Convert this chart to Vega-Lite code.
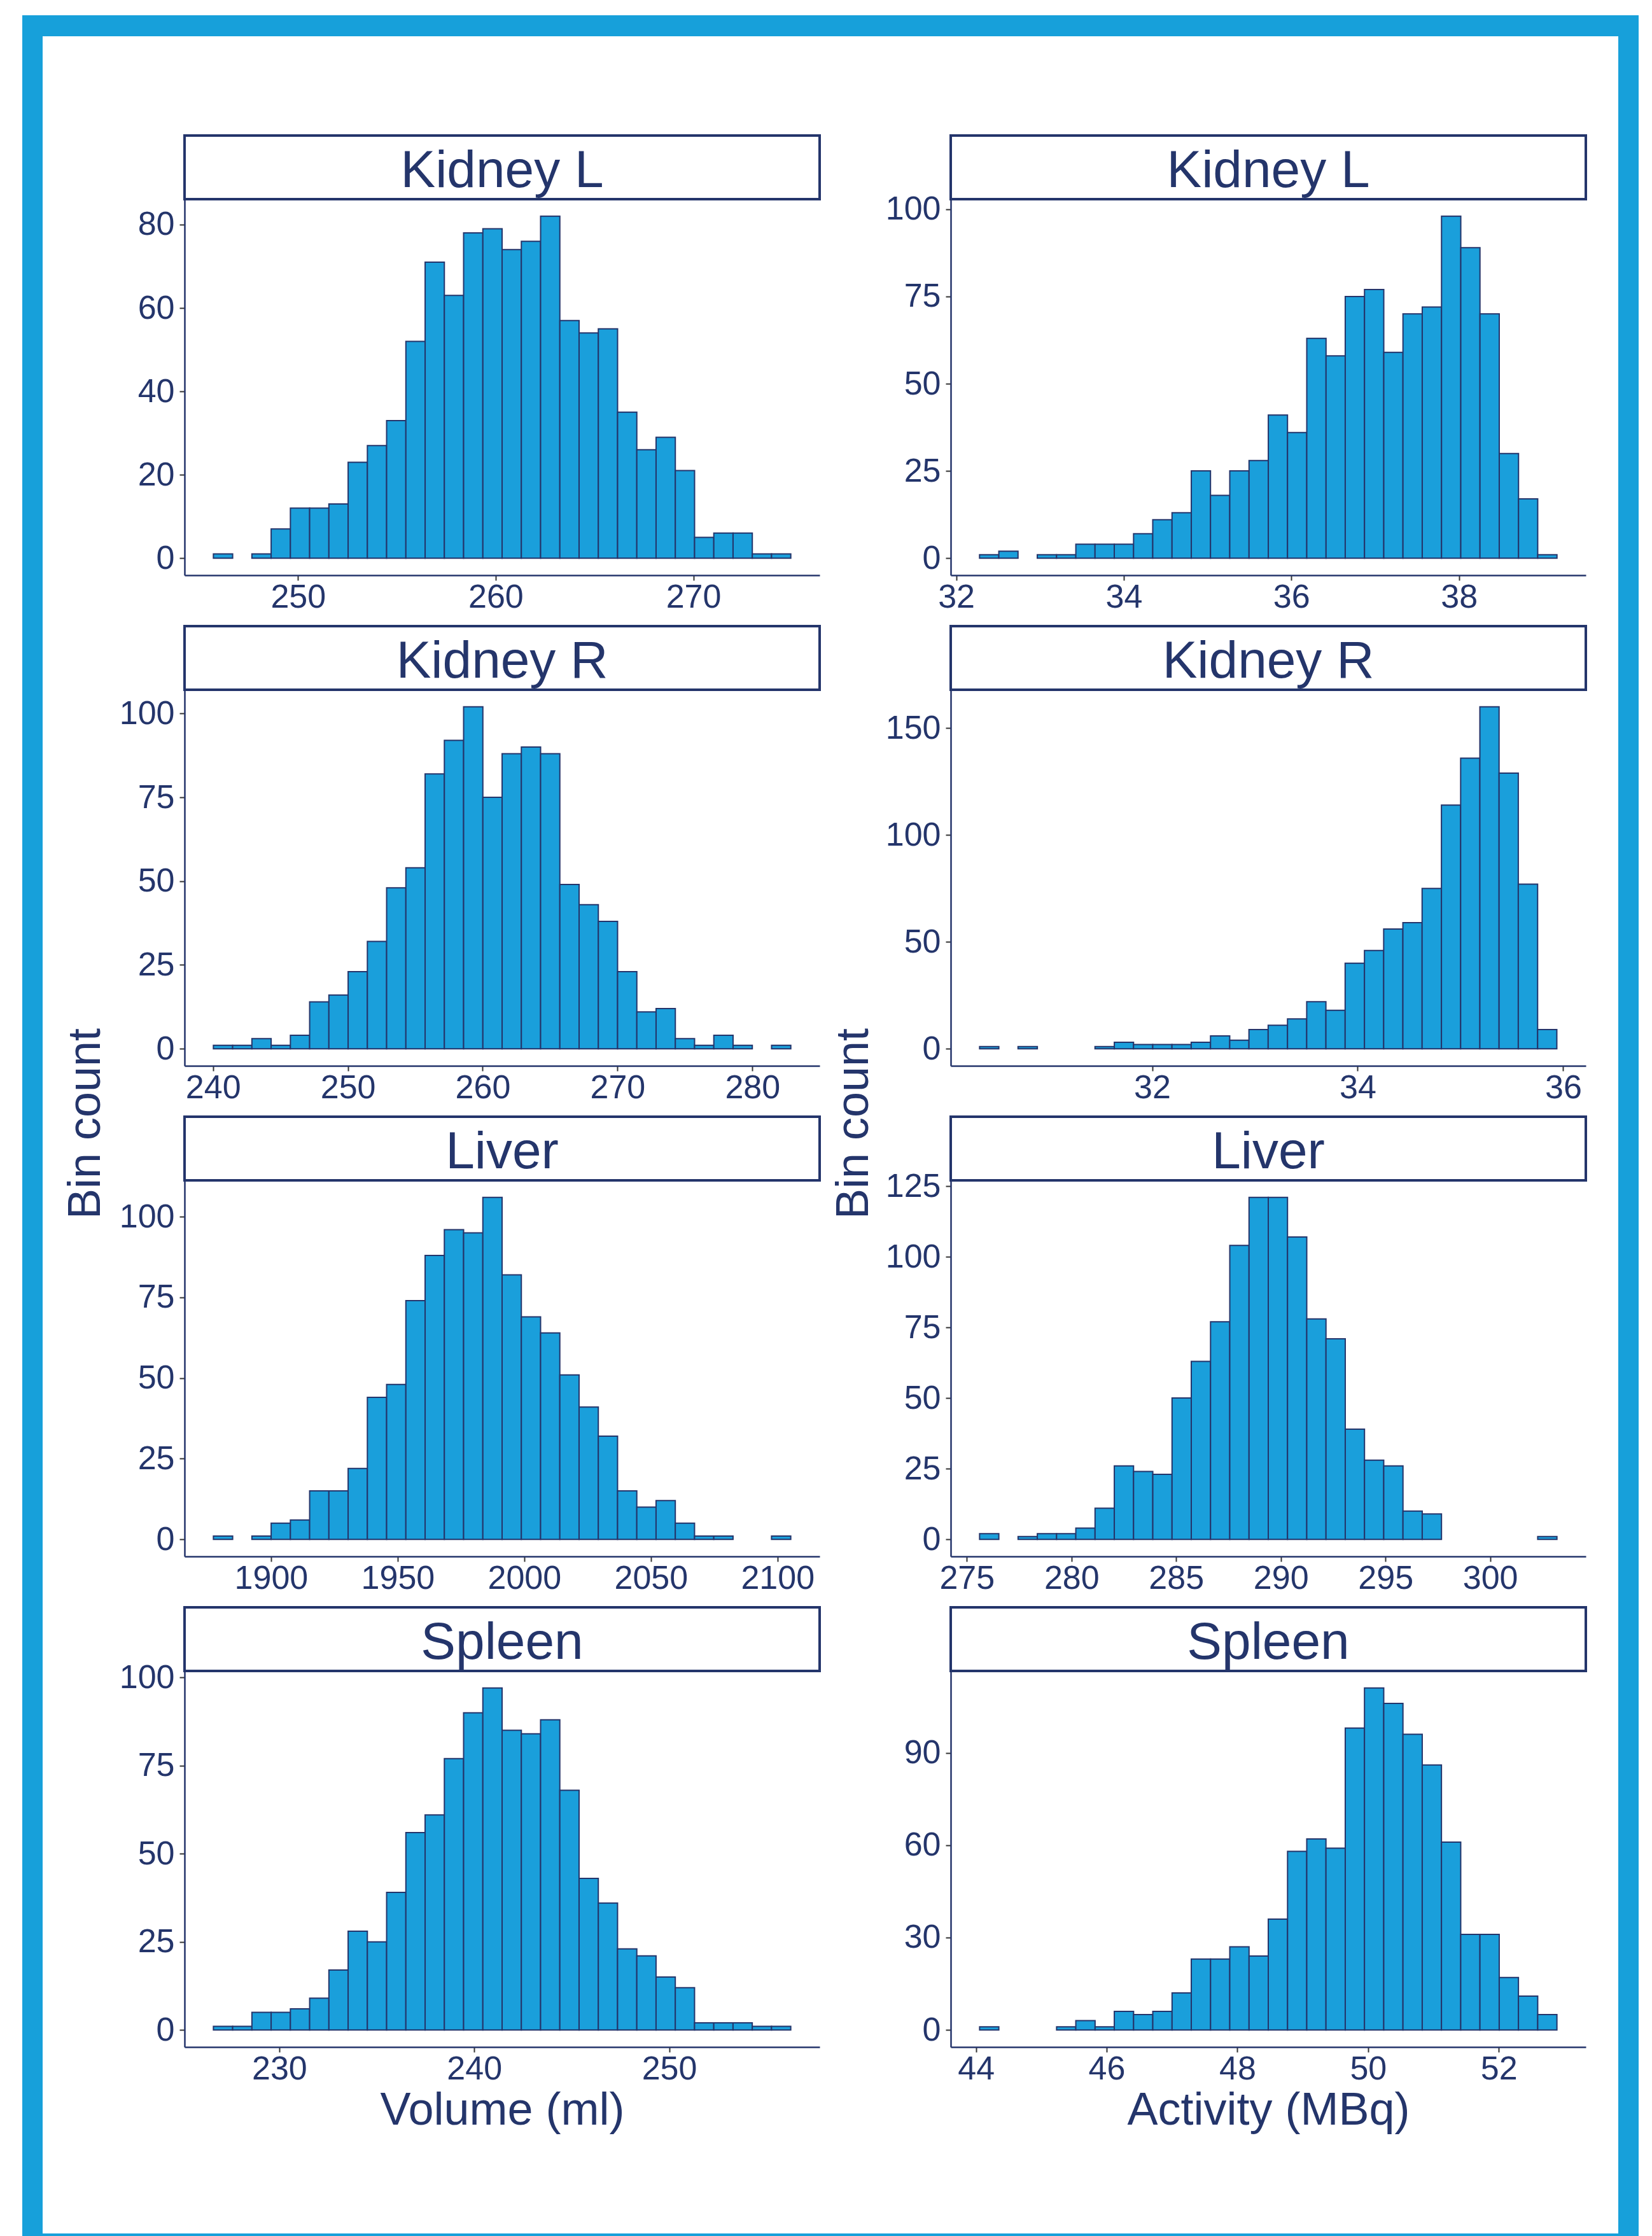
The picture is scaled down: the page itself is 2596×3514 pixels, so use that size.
{
  "$schema": "https://vega.github.io/schema/vega-lite/v6.json",
  "background": "white",
  "padding": {"left": 35, "top": 24, "right": 0, "bottom": 0},
  "config": {
    "view": {"stroke": null},
    "font": "Liberation Sans",
    "axis": {"grid": false, "domainColor": "#24356b", "domainWidth": 2.5, "tickColor": "#333333", "tickSize": 8, "tickWidth": 2,
      "labelColor": "#24356b", "labelFont": "Liberation Sans", "labelFontSize": 52, "labelFlush": false, "labelOverlap": false,
      "titleFont": "Liberation Sans", "titleFontSize": 72, "titleColor": "#24356b", "titleFontWeight": "normal", "format": "d"},
    "axisX": {"labelPadding": 1, "minExtent": 70},
    "axisY": {"labelPadding": 8, "minExtent": 115}
  },
  "datasets": {
    "vol_kl": [
      {"start": 245.720, "end": 246.694, "count": 1}, {"start": 247.667, "end": 248.641, "count": 1},
      {"start": 248.641, "end": 249.615, "count": 7}, {"start": 249.615, "end": 250.589, "count": 12},
      {"start": 250.589, "end": 251.562, "count": 12}, {"start": 251.562, "end": 252.536, "count": 13},
      {"start": 252.536, "end": 253.510, "count": 23}, {"start": 253.510, "end": 254.483, "count": 27},
      {"start": 254.483, "end": 255.457, "count": 33}, {"start": 255.457, "end": 256.431, "count": 52},
      {"start": 256.431, "end": 257.404, "count": 71}, {"start": 257.404, "end": 258.378, "count": 63},
      {"start": 258.378, "end": 259.352, "count": 78}, {"start": 259.352, "end": 260.326, "count": 79},
      {"start": 260.326, "end": 261.299, "count": 74}, {"start": 261.299, "end": 262.273, "count": 76},
      {"start": 262.273, "end": 263.247, "count": 82}, {"start": 263.247, "end": 264.220, "count": 57},
      {"start": 264.220, "end": 265.194, "count": 54}, {"start": 265.194, "end": 266.168, "count": 55},
      {"start": 266.168, "end": 267.141, "count": 35}, {"start": 267.141, "end": 268.115, "count": 26},
      {"start": 268.115, "end": 269.089, "count": 29}, {"start": 269.089, "end": 270.063, "count": 21},
      {"start": 270.063, "end": 271.036, "count": 5}, {"start": 271.036, "end": 272.010, "count": 6},
      {"start": 272.010, "end": 272.984, "count": 6}, {"start": 272.984, "end": 273.957, "count": 1},
      {"start": 273.957, "end": 274.931, "count": 1}
    ],
    "act_kl": [
      {"start": 32.279, "end": 32.509, "count": 1}, {"start": 32.509, "end": 32.738, "count": 2},
      {"start": 32.968, "end": 33.198, "count": 1}, {"start": 33.198, "end": 33.428, "count": 1},
      {"start": 33.428, "end": 33.657, "count": 4}, {"start": 33.657, "end": 33.887, "count": 4},
      {"start": 33.887, "end": 34.117, "count": 4}, {"start": 34.117, "end": 34.346, "count": 7},
      {"start": 34.346, "end": 34.576, "count": 11}, {"start": 34.576, "end": 34.806, "count": 13},
      {"start": 34.806, "end": 35.035, "count": 25}, {"start": 35.035, "end": 35.265, "count": 18},
      {"start": 35.265, "end": 35.495, "count": 25}, {"start": 35.495, "end": 35.725, "count": 28},
      {"start": 35.725, "end": 35.954, "count": 41}, {"start": 35.954, "end": 36.184, "count": 36},
      {"start": 36.184, "end": 36.414, "count": 63}, {"start": 36.414, "end": 36.643, "count": 58},
      {"start": 36.643, "end": 36.873, "count": 75}, {"start": 36.873, "end": 37.103, "count": 77},
      {"start": 37.103, "end": 37.332, "count": 59}, {"start": 37.332, "end": 37.562, "count": 70},
      {"start": 37.562, "end": 37.792, "count": 72}, {"start": 37.792, "end": 38.022, "count": 98},
      {"start": 38.022, "end": 38.251, "count": 89}, {"start": 38.251, "end": 38.481, "count": 70},
      {"start": 38.481, "end": 38.711, "count": 30}, {"start": 38.711, "end": 38.940, "count": 17},
      {"start": 38.940, "end": 39.170, "count": 1}
    ],
    "vol_kr": [
      {"start": 240.030, "end": 241.457, "count": 1}, {"start": 241.457, "end": 242.885, "count": 1},
      {"start": 242.885, "end": 244.312, "count": 3}, {"start": 244.312, "end": 245.740, "count": 1},
      {"start": 245.740, "end": 247.167, "count": 4}, {"start": 247.167, "end": 248.594, "count": 14},
      {"start": 248.594, "end": 250.022, "count": 16}, {"start": 250.022, "end": 251.449, "count": 23},
      {"start": 251.449, "end": 252.877, "count": 32}, {"start": 252.877, "end": 254.304, "count": 48},
      {"start": 254.304, "end": 255.731, "count": 54}, {"start": 255.731, "end": 257.159, "count": 82},
      {"start": 257.159, "end": 258.586, "count": 92}, {"start": 258.586, "end": 260.014, "count": 102},
      {"start": 260.014, "end": 261.441, "count": 75}, {"start": 261.441, "end": 262.868, "count": 88},
      {"start": 262.868, "end": 264.296, "count": 90}, {"start": 264.296, "end": 265.723, "count": 88},
      {"start": 265.723, "end": 267.151, "count": 49}, {"start": 267.151, "end": 268.578, "count": 43},
      {"start": 268.578, "end": 270.005, "count": 38}, {"start": 270.005, "end": 271.433, "count": 23},
      {"start": 271.433, "end": 272.860, "count": 11}, {"start": 272.860, "end": 274.288, "count": 12},
      {"start": 274.288, "end": 275.715, "count": 3}, {"start": 275.715, "end": 277.142, "count": 1},
      {"start": 277.142, "end": 278.570, "count": 4}, {"start": 278.570, "end": 279.997, "count": 1},
      {"start": 281.425, "end": 282.852, "count": 1}
    ],
    "act_kr": [
      {"start": 30.321, "end": 30.508, "count": 1}, {"start": 30.695, "end": 30.883, "count": 1},
      {"start": 31.444, "end": 31.632, "count": 1}, {"start": 31.632, "end": 31.819, "count": 3},
      {"start": 31.819, "end": 32.006, "count": 2}, {"start": 32.006, "end": 32.193, "count": 2},
      {"start": 32.193, "end": 32.380, "count": 2}, {"start": 32.380, "end": 32.568, "count": 3},
      {"start": 32.568, "end": 32.755, "count": 6}, {"start": 32.755, "end": 32.942, "count": 4},
      {"start": 32.942, "end": 33.129, "count": 9}, {"start": 33.129, "end": 33.317, "count": 11},
      {"start": 33.317, "end": 33.504, "count": 14}, {"start": 33.504, "end": 33.691, "count": 22},
      {"start": 33.691, "end": 33.878, "count": 18}, {"start": 33.878, "end": 34.066, "count": 40},
      {"start": 34.066, "end": 34.253, "count": 46}, {"start": 34.253, "end": 34.440, "count": 56},
      {"start": 34.440, "end": 34.627, "count": 59}, {"start": 34.627, "end": 34.815, "count": 75},
      {"start": 34.815, "end": 35.002, "count": 114}, {"start": 35.002, "end": 35.189, "count": 136},
      {"start": 35.189, "end": 35.376, "count": 160}, {"start": 35.376, "end": 35.563, "count": 129},
      {"start": 35.563, "end": 35.751, "count": 77}, {"start": 35.751, "end": 35.938, "count": 9}
    ],
    "vol_liver": [
      {"start": 1877.24, "end": 1884.84, "count": 1}, {"start": 1892.44, "end": 1900.04, "count": 1},
      {"start": 1900.04, "end": 1907.64, "count": 5}, {"start": 1907.64, "end": 1915.24, "count": 6},
      {"start": 1915.24, "end": 1922.84, "count": 15}, {"start": 1922.84, "end": 1930.44, "count": 15},
      {"start": 1930.44, "end": 1938.04, "count": 22}, {"start": 1938.04, "end": 1945.64, "count": 44},
      {"start": 1945.64, "end": 1953.24, "count": 48}, {"start": 1953.24, "end": 1960.84, "count": 74},
      {"start": 1960.84, "end": 1968.44, "count": 88}, {"start": 1968.44, "end": 1976.04, "count": 96},
      {"start": 1976.04, "end": 1983.64, "count": 95}, {"start": 1983.64, "end": 1991.24, "count": 106},
      {"start": 1991.24, "end": 1998.84, "count": 82}, {"start": 1998.84, "end": 2006.44, "count": 69},
      {"start": 2006.44, "end": 2014.04, "count": 64}, {"start": 2014.04, "end": 2021.64, "count": 51},
      {"start": 2021.64, "end": 2029.24, "count": 41}, {"start": 2029.24, "end": 2036.84, "count": 32},
      {"start": 2036.84, "end": 2044.44, "count": 15}, {"start": 2044.44, "end": 2052.04, "count": 10},
      {"start": 2052.04, "end": 2059.64, "count": 12}, {"start": 2059.64, "end": 2067.24, "count": 5},
      {"start": 2067.24, "end": 2074.84, "count": 1}, {"start": 2074.84, "end": 2082.44, "count": 1},
      {"start": 2097.64, "end": 2105.24, "count": 1}
    ],
    "act_liver": [
      {"start": 275.610, "end": 276.529, "count": 2}, {"start": 277.449, "end": 278.368, "count": 1},
      {"start": 278.368, "end": 279.288, "count": 2}, {"start": 279.288, "end": 280.207, "count": 2},
      {"start": 280.207, "end": 281.126, "count": 4}, {"start": 281.126, "end": 282.046, "count": 11},
      {"start": 282.046, "end": 282.965, "count": 26}, {"start": 282.965, "end": 283.885, "count": 24},
      {"start": 283.885, "end": 284.804, "count": 23}, {"start": 284.804, "end": 285.723, "count": 50},
      {"start": 285.723, "end": 286.643, "count": 63}, {"start": 286.643, "end": 287.562, "count": 77},
      {"start": 287.562, "end": 288.482, "count": 104}, {"start": 288.482, "end": 289.401, "count": 121},
      {"start": 289.401, "end": 290.320, "count": 121}, {"start": 290.320, "end": 291.240, "count": 107},
      {"start": 291.240, "end": 292.159, "count": 78}, {"start": 292.159, "end": 293.079, "count": 71},
      {"start": 293.079, "end": 293.998, "count": 39}, {"start": 293.998, "end": 294.917, "count": 28},
      {"start": 294.917, "end": 295.837, "count": 26}, {"start": 295.837, "end": 296.756, "count": 10},
      {"start": 296.756, "end": 297.676, "count": 9}, {"start": 302.273, "end": 303.192, "count": 1}
    ],
    "vol_spleen": [
      {"start": 226.620, "end": 227.607, "count": 1}, {"start": 227.607, "end": 228.595, "count": 1},
      {"start": 228.595, "end": 229.582, "count": 5}, {"start": 229.582, "end": 230.569, "count": 5},
      {"start": 230.569, "end": 231.557, "count": 6}, {"start": 231.557, "end": 232.544, "count": 9},
      {"start": 232.544, "end": 233.531, "count": 17}, {"start": 233.531, "end": 234.518, "count": 28},
      {"start": 234.518, "end": 235.506, "count": 25}, {"start": 235.506, "end": 236.493, "count": 39},
      {"start": 236.493, "end": 237.480, "count": 56}, {"start": 237.480, "end": 238.468, "count": 61},
      {"start": 238.468, "end": 239.455, "count": 77}, {"start": 239.455, "end": 240.442, "count": 90},
      {"start": 240.442, "end": 241.430, "count": 97}, {"start": 241.430, "end": 242.417, "count": 85},
      {"start": 242.417, "end": 243.404, "count": 84}, {"start": 243.404, "end": 244.391, "count": 88},
      {"start": 244.391, "end": 245.379, "count": 68}, {"start": 245.379, "end": 246.366, "count": 43},
      {"start": 246.366, "end": 247.353, "count": 36}, {"start": 247.353, "end": 248.341, "count": 23},
      {"start": 248.341, "end": 249.328, "count": 21}, {"start": 249.328, "end": 250.315, "count": 15},
      {"start": 250.315, "end": 251.303, "count": 12}, {"start": 251.303, "end": 252.290, "count": 2},
      {"start": 252.290, "end": 253.277, "count": 2}, {"start": 253.277, "end": 254.264, "count": 2},
      {"start": 254.264, "end": 255.252, "count": 1}, {"start": 255.252, "end": 256.239, "count": 1}
    ],
    "act_spleen": [
      {"start": 44.056, "end": 44.350, "count": 1}, {"start": 45.234, "end": 45.528, "count": 1},
      {"start": 45.528, "end": 45.823, "count": 3}, {"start": 45.823, "end": 46.117, "count": 1},
      {"start": 46.117, "end": 46.412, "count": 6}, {"start": 46.412, "end": 46.706, "count": 5},
      {"start": 46.706, "end": 47.001, "count": 6}, {"start": 47.001, "end": 47.295, "count": 12},
      {"start": 47.295, "end": 47.590, "count": 23}, {"start": 47.590, "end": 47.884, "count": 23},
      {"start": 47.884, "end": 48.179, "count": 27}, {"start": 48.179, "end": 48.473, "count": 24},
      {"start": 48.473, "end": 48.768, "count": 36}, {"start": 48.768, "end": 49.062, "count": 58},
      {"start": 49.062, "end": 49.356, "count": 62}, {"start": 49.356, "end": 49.651, "count": 59},
      {"start": 49.651, "end": 49.945, "count": 98}, {"start": 49.945, "end": 50.240, "count": 111},
      {"start": 50.240, "end": 50.534, "count": 106}, {"start": 50.534, "end": 50.829, "count": 96},
      {"start": 50.829, "end": 51.123, "count": 86}, {"start": 51.123, "end": 51.418, "count": 61},
      {"start": 51.418, "end": 51.712, "count": 31}, {"start": 51.712, "end": 52.007, "count": 31},
      {"start": 52.007, "end": 52.301, "count": 17}, {"start": 52.301, "end": 52.596, "count": 11},
      {"start": 52.596, "end": 52.890, "count": 5}
    ]
  },
  "vconcat": [
    {"width": 2540, "height": 33, "data": {"values": []}, "mark": "point", "encoding": {}, "view": {"fill": "#17a0da", "stroke": null}},
    {
      "hconcat": [
        {"width": 32, "height": 3453, "data": {"values": []}, "mark": "point", "encoding": {}, "view": {"fill": "#17a0da", "stroke": null}},
        {"width": 28, "height": 10, "data": {"values": []}, "mark": "point", "encoding": {}, "view": {"stroke": null}},
        {"width": 80, "height": 3418, "data": {"values": [{"t": "Bin count"}]}, "mark": {"type": "text", "angle": 270, "fontSize": 72, "font": "Liberation Sans", "color": "#24356b", "baseline": "middle", "align": "center"}, "encoding": {"text": {"field": "t"}}, "view": {"stroke": null}},
        {
          "vconcat": [
            {"width": 10, "height": 146, "data": {"values": []}, "mark": "point", "encoding": {}, "view": {"stroke": null}},
            {"vconcat": [
              {"width": 998, "height": 100, "data": {"values": [{"label": "Kidney L"}]}, "mark": {"type": "text", "fontSize": 82, "font": "Liberation Sans", "color": "#24356b", "baseline": "alphabetic", "dy": 31}, "encoding": {"text": {"field": "label"}}, "view": {"stroke": "#24356b", "strokeWidth": 4, "fill": "white"}},
              {"width": 998, "height": 591, "data": {"name": "vol_kl"}, "mark": {"type": "rect", "fill": "#1a9fdb", "stroke": "#24356b", "strokeWidth": 2},
               "encoding": {
                 "x": {"field": "start", "type": "quantitative", "scale": {"domain": [244.26, 276.39], "nice": false, "zero": false}, "axis": {"values": [250, 260, 270], "title": null}},
                 "x2": {"field": "end"},
                 "y": {"field": "count", "type": "quantitative", "scale": {"domain": [-4.1, 86.1], "nice": false, "zero": false}, "axis": {"values": [0, 20, 40, 60, 80], "title": null}},
                 "y2": {"datum": 0}}}
            ], "spacing": 0, "bounds": "flush"},
            {"vconcat": [
              {"width": 998, "height": 100, "data": {"values": [{"label": "Kidney R"}]}, "mark": {"type": "text", "fontSize": 82, "font": "Liberation Sans", "color": "#24356b", "baseline": "alphabetic", "dy": 31}, "encoding": {"text": {"field": "label"}}, "view": {"stroke": "#24356b", "strokeWidth": 4, "fill": "white"}},
              {"width": 998, "height": 591, "data": {"name": "vol_kr"}, "mark": {"type": "rect", "fill": "#1a9fdb", "stroke": "#24356b", "strokeWidth": 2},
               "encoding": {
                 "x": {"field": "start", "type": "quantitative", "scale": {"domain": [237.89, 284.99], "nice": false, "zero": false}, "axis": {"values": [240, 250, 260, 270, 280], "title": null}},
                 "x2": {"field": "end"},
                 "y": {"field": "count", "type": "quantitative", "scale": {"domain": [-5.1, 107.1], "nice": false, "zero": false}, "axis": {"values": [0, 25, 50, 75, 100], "title": null}},
                 "y2": {"datum": 0}}}
            ], "spacing": 0, "bounds": "flush"},
            {"vconcat": [
              {"width": 998, "height": 100, "data": {"values": [{"label": "Liver"}]}, "mark": {"type": "text", "fontSize": 82, "font": "Liberation Sans", "color": "#24356b", "baseline": "alphabetic", "dy": 31}, "encoding": {"text": {"field": "label"}}, "view": {"stroke": "#24356b", "strokeWidth": 4, "fill": "white"}},
              {"width": 998, "height": 591, "data": {"name": "vol_liver"}, "mark": {"type": "rect", "fill": "#1a9fdb", "stroke": "#24356b", "strokeWidth": 2},
               "encoding": {
                 "x": {"field": "start", "type": "quantitative", "scale": {"domain": [1865.84, 2116.64], "nice": false, "zero": false}, "axis": {"values": [1900, 1950, 2000, 2050, 2100], "title": null}},
                 "x2": {"field": "end"},
                 "y": {"field": "count", "type": "quantitative", "scale": {"domain": [-5.3, 111.3], "nice": false, "zero": false}, "axis": {"values": [0, 25, 50, 75, 100], "title": null}},
                 "y2": {"datum": 0}}}
            ], "spacing": 0, "bounds": "flush"},
            {"vconcat": [
              {"width": 998, "height": 100, "data": {"values": [{"label": "Spleen"}]}, "mark": {"type": "text", "fontSize": 82, "font": "Liberation Sans", "color": "#24356b", "baseline": "alphabetic", "dy": 31}, "encoding": {"text": {"field": "label"}}, "view": {"stroke": "#24356b", "strokeWidth": 4, "fill": "white"}},
              {"width": 998, "height": 591, "data": {"name": "vol_spleen"}, "mark": {"type": "rect", "fill": "#1a9fdb", "stroke": "#24356b", "strokeWidth": 2},
               "encoding": {
                 "x": {"field": "start", "type": "quantitative", "scale": {"domain": [225.139, 257.72], "nice": false, "zero": false}, "axis": {"values": [230, 240, 250], "title": "Volume (ml)", "titleY": 121, "titleBaseline": "alphabetic"}},
                 "x2": {"field": "end"},
                 "y": {"field": "count", "type": "quantitative", "scale": {"domain": [-4.85, 101.85], "nice": false, "zero": false}, "axis": {"values": [0, 25, 50, 75, 100], "title": null}},
                 "y2": {"datum": 0}}}
            ], "spacing": 0, "bounds": "flush"}
          ],
          "spacing": 8
        },
        {"width": 16, "height": 10, "data": {"values": []}, "mark": "point", "encoding": {}, "view": {"stroke": null}},
        {"width": 72, "height": 3418, "data": {"values": [{"t": "Bin count"}]}, "mark": {"type": "text", "angle": 270, "fontSize": 72, "font": "Liberation Sans", "color": "#24356b", "baseline": "middle", "align": "center"}, "encoding": {"text": {"field": "t"}}, "view": {"stroke": null}},
        {
          "vconcat": [
            {"width": 10, "height": 146, "data": {"values": []}, "mark": "point", "encoding": {}, "view": {"stroke": null}},
            {"vconcat": [
              {"width": 998, "height": 100, "data": {"values": [{"label": "Kidney L"}]}, "mark": {"type": "text", "fontSize": 82, "font": "Liberation Sans", "color": "#24356b", "baseline": "alphabetic", "dy": 31}, "encoding": {"text": {"field": "label"}}, "view": {"stroke": "#24356b", "strokeWidth": 4, "fill": "white"}},
              {"width": 998, "height": 591, "data": {"name": "act_kl"}, "mark": {"type": "rect", "fill": "#1a9fdb", "stroke": "#24356b", "strokeWidth": 2},
               "encoding": {
                 "x": {"field": "start", "type": "quantitative", "scale": {"domain": [31.935, 39.514], "nice": false, "zero": false}, "axis": {"values": [32, 34, 36, 38], "title": null}},
                 "x2": {"field": "end"},
                 "y": {"field": "count", "type": "quantitative", "scale": {"domain": [-4.9, 102.9], "nice": false, "zero": false}, "axis": {"values": [0, 25, 50, 75, 100], "title": null, "minExtent": 116}},
                 "y2": {"datum": 0}}}
            ], "spacing": 0, "bounds": "flush"},
            {"vconcat": [
              {"width": 998, "height": 100, "data": {"values": [{"label": "Kidney R"}]}, "mark": {"type": "text", "fontSize": 82, "font": "Liberation Sans", "color": "#24356b", "baseline": "alphabetic", "dy": 31}, "encoding": {"text": {"field": "label"}}, "view": {"stroke": "#24356b", "strokeWidth": 4, "fill": "white"}},
              {"width": 998, "height": 591, "data": {"name": "act_kr"}, "mark": {"type": "rect", "fill": "#1a9fdb", "stroke": "#24356b", "strokeWidth": 2},
               "encoding": {
                 "x": {"field": "start", "type": "quantitative", "scale": {"domain": [30.04, 36.22], "nice": false, "zero": false}, "axis": {"values": [32, 34, 36], "title": null}},
                 "x2": {"field": "end"},
                 "y": {"field": "count", "type": "quantitative", "scale": {"domain": [-8, 168], "nice": false, "zero": false}, "axis": {"values": [0, 50, 100, 150], "title": null, "minExtent": 116}},
                 "y2": {"datum": 0}}}
            ], "spacing": 0, "bounds": "flush"},
            {"vconcat": [
              {"width": 998, "height": 100, "data": {"values": [{"label": "Liver"}]}, "mark": {"type": "text", "fontSize": 82, "font": "Liberation Sans", "color": "#24356b", "baseline": "alphabetic", "dy": 31}, "encoding": {"text": {"field": "label"}}, "view": {"stroke": "#24356b", "strokeWidth": 4, "fill": "white"}},
              {"width": 998, "height": 591, "data": {"name": "act_liver"}, "mark": {"type": "rect", "fill": "#1a9fdb", "stroke": "#24356b", "strokeWidth": 2},
               "encoding": {
                 "x": {"field": "start", "type": "quantitative", "scale": {"domain": [274.231, 304.571], "nice": false, "zero": false}, "axis": {"values": [275, 280, 285, 290, 295, 300], "title": null}},
                 "x2": {"field": "end"},
                 "y": {"field": "count", "type": "quantitative", "scale": {"domain": [-6.05, 127.05], "nice": false, "zero": false}, "axis": {"values": [0, 25, 50, 75, 100, 125], "title": null, "minExtent": 116}},
                 "y2": {"datum": 0}}}
            ], "spacing": 0, "bounds": "flush"},
            {"vconcat": [
              {"width": 998, "height": 100, "data": {"values": [{"label": "Spleen"}]}, "mark": {"type": "text", "fontSize": 82, "font": "Liberation Sans", "color": "#24356b", "baseline": "alphabetic", "dy": 31}, "encoding": {"text": {"field": "label"}}, "view": {"stroke": "#24356b", "strokeWidth": 4, "fill": "white"}},
              {"width": 998, "height": 591, "data": {"name": "act_spleen"}, "mark": {"type": "rect", "fill": "#1a9fdb", "stroke": "#24356b", "strokeWidth": 2},
               "encoding": {
                 "x": {"field": "start", "type": "quantitative", "scale": {"domain": [43.614, 53.332], "nice": false, "zero": false}, "axis": {"values": [44, 46, 48, 50, 52], "title": "Activity (MBq)", "titleY": 121, "titleBaseline": "alphabetic"}},
                 "x2": {"field": "end"},
                 "y": {"field": "count", "type": "quantitative", "scale": {"domain": [-5.55, 116.55], "nice": false, "zero": false}, "axis": {"values": [0, 30, 60, 90], "title": null, "minExtent": 116}},
                 "y2": {"datum": 0}}}
            ], "spacing": 0, "bounds": "flush"}
          ],
          "spacing": 8
        },
        {"width": 49, "height": 10, "data": {"values": []}, "mark": "point", "encoding": {}, "view": {"stroke": null}},
        {"width": 32, "height": 3453, "data": {"values": []}, "mark": "point", "encoding": {}, "view": {"fill": "#17a0da", "stroke": null}}
      ],
      "spacing": 0
    },
    {"width": 2540, "height": 33, "data": {"values": []}, "mark": "point", "encoding": {}, "view": {"fill": "#17a0da", "stroke": null}}
  ],
  "spacing": 0
}
